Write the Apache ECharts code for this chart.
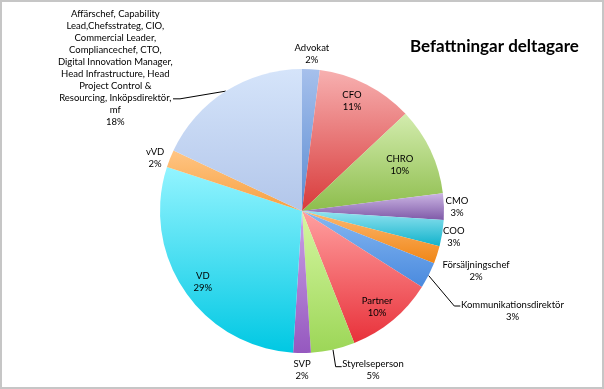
<!DOCTYPE html>
<html><head><meta charset="utf-8">
<script src="https://cdn.jsdelivr.net/npm/echarts@6/dist/echarts.min.js"></script>
<style>
html,body{margin:0;padding:0;background:#fff;}
#c{position:absolute;left:0;top:0;width:604px;height:389px;}
#f{position:absolute;left:0;top:0;width:604px;height:389px;box-sizing:border-box;border:2px solid #c6c6c6;pointer-events:none;}
</style></head><body>
<div id="c"></div><div id="f"></div>
<script>
// ---- data ----
const titleText = 'Befattningar deltagare';
const categories = [
  'Advokat', 'CFO', 'CHRO', 'CMO', 'COO', 'Försäljningschef',
  'Kommunikationsdirektör', 'Partner', 'Styrelseperson', 'SVP', 'VD', 'vVD',
  'Affärschef, Capability\nLead,Chefsstrateg, CIO,\nCommercial Leader,\nCompliancechef, CTO,\nDigital Innovation Manager,\nHead Infrastructure, Head\nProject Control &\nResourcing, Inköpsdirektör,\nmf'
];
const values = [2, 11, 10, 3, 3, 2, 3, 10, 5, 2, 29, 2, 18];

// ---- styles ----
const topColors = ['#a6c0ec', '#f7b0b0', '#d3ecae', '#ccb6e4', '#93e3f0', '#fdb870', '#86b8f2', '#ffa0a0', '#d6f7a2', '#cba2e6', '#93f4ff', '#ffc584', '#d5e4fa'];
const bottomColors = ['#5b8cd2', '#d83a3a', '#8dbd4c', '#7f5aa8', '#0fb2cb', '#f08616', '#4a8ade', '#e8313a', '#9cd657', '#9558bf', '#00c8e3', '#f7a040', '#b2c6ea'];
// label placement: [distance from centre, angle shift from slice middle (deg)]
const labelPlace = [[157, 0], [121, -2.6], [108, 0], [155, 0.3], [154, 0.7], [184, 0.9], [233, -1.6], [122, 1.6], [174, -11.5], [159, 0], [122, -1.4], [156, -1.9], [235, -20.2]];
// leader lines: [bend distance, bend angle (deg), horizontal run]
const leaders = {6: [179.5, 121.96, 6], 8: [159.3, 167.8, 6], 12: [165.7, 312.6, -7]};

const CX = 302, CY = 211, R = 142;
const total = values.reduce((a, b) => a + b, 0);
const midAngles = [];
let acc = 0;
values.forEach(v => { midAngles.push((acc + v / 2) / total * 360); acc += v; });

const chart = echarts.init(document.getElementById('c'));
const FONT = 'Lato';
chart.setOption({
  animation: false,
  backgroundColor: '#fff',
  title: {
    text: titleText, left: 405, top: 33,
    textStyle: {fontFamily: FONT, fontWeight: 'bold', fontSize: 17, color: '#000'}
  },
  series: [{
    type: 'pie',
    center: [CX, CY],
    radius: R,
    startAngle: 90,
    clockwise: true,
    percentPrecision: 0,
    avoidLabelOverlap: false,
    label: {
      show: true, position: 'outside', color: '#000', fontFamily: FONT, fontSize: 9.5, lineHeight: 12,
      textBorderWidth: 0,
      formatter: p => p.name + '\n' + p.percent + '%'
    },
    labelLine: {show: false, lineStyle: {color: '#000', width: 1}},
    labelLayout: function (p) {
      const i = p.dataIndex;
      const pl = labelPlace[i];
      const a = (midAngles[i] + pl[1]) * Math.PI / 180;
      const res = {x: CX + pl[0] * Math.sin(a), y: CY - pl[0] * Math.cos(a), align: 'center', verticalAlign: 'middle'};
      const ld = leaders[i];
      if (ld) {
        const am = midAngles[i] * Math.PI / 180;
        const ab = ld[1] * Math.PI / 180;
        const p0 = [CX + R * Math.sin(am), CY - R * Math.cos(am)];
        const p1 = [CX + ld[0] * Math.sin(ab), CY - ld[0] * Math.cos(ab)];
        const p2 = [p1[0] + ld[2], p1[1]];
        res.labelLinePoints = [p0, p1, p2];
      }
      return res;
    },
    data: categories.map((name, i) => ({
      name: name,
      value: values[i],
      itemStyle: {
        color: {type: 'linear', x: 0, y: 0, x2: 0, y2: 1, colorStops: [
          {offset: 0, color: topColors[i]}, {offset: 1, color: bottomColors[i]}
        ]}
      },
      labelLine: leaders[i] ? {show: true, length: 10, length2: 6} : {show: false}
    }))
  }]
});
</script>
</body></html>
